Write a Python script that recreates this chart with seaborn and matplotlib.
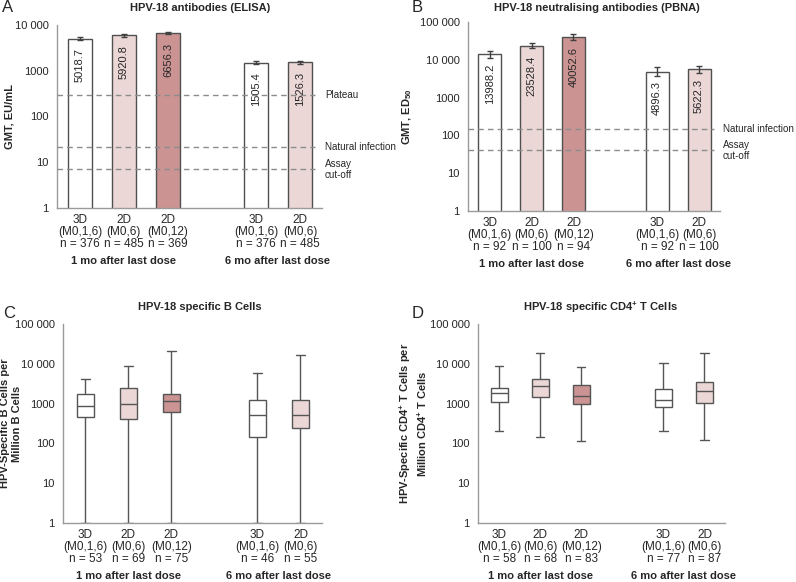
import matplotlib
matplotlib.use('Agg')
import matplotlib.pyplot as plt
import numpy as np
import pandas as pd
import seaborn as sns

# -----------------------------------------------------------------------------
#         Data
# -----------------------------------------------------------------------------
regimens = ['3D\n(M0,1,6)', '2D\n(M0,6)', '2D\n(M0,12)', '3D\n(M0,1,6)', '2D\n(M0,6)']
timepoints = ['1 mo after last dose'] * 3 + ['6 mo after last dose'] * 2

# Panel A: ELISA GMT with 95% CI
elisa_gmt = [5018.7, 5920.8, 6656.3, 1505.4, 1526.3]
elisa_lo = [4600, 5550, 6300, 1380, 1430]
elisa_hi = [5480, 6320, 7040, 1640, 1630]
elisa_n = [376, 485, 369, 376, 485]
elisa_ref_names = ['Plateau', 'Natural infection', 'Assay\ncut-off']
elisa_ref_vals = [300, 22, 7]

# Panel B: PBNA GMT with 95% CI
pbna_gmt = [13988.2, 23528.4, 40052.6, 4896.3, 5622.3]
pbna_lo = [11200, 20300, 34300, 3700, 4600]
pbna_hi = [17500, 27300, 46800, 6500, 6900]
pbna_n = [92, 100, 94, 92, 100]
pbna_ref_names = ['Natural infection', 'Assay\ncut-off']
pbna_ref_vals = [150, 40]

# Panel C: B cells, five-number summary
bcell_low = [1, 1, 1, 1, 1]
bcell_q1 = [450, 420, 630, 145, 245]
bcell_med = [860, 980, 1170, 530, 530]
bcell_q3 = [1780, 2500, 1750, 1200, 1200]
bcell_high = [4200, 8600, 21500, 5800, 16500]
bcell_n = [53, 69, 75, 46, 55]

# Panel D: CD4+ T cells, five-number summary
cd4_low = [203, 147, 114, 200, 119]
cd4_q1 = [1100, 1470, 1000, 830, 1040]
cd4_med = [1850, 2820, 1560, 1260, 2100]
cd4_q3 = [2470, 4200, 3000, 2330, 3500]
cd4_high = [8900, 19200, 8100, 10400, 19200]
cd4_n = [58, 68, 83, 77, 87]

ticks_1e4 = ['1', '10', '100', '1000', '10 000']
ticks_1e5 = ['1', '10', '100', '1000', '10 000', '100 000']

palette = {'3D\n(M0,1,6)': 'white', '2D\n(M0,6)': '#EFD4D1', '2D\n(M0,12)': '#D48B8A'}

# -----------------------------------------------------------------------------
#         Layout helpers
# -----------------------------------------------------------------------------
W, H = 796, 582
sns.set_style('white')
plt.rcParams['font.family'] = ['Liberation Sans', 'DejaVu Sans']
plt.rcParams['mathtext.default'] = 'regular'
TXT = '#262626'

# groups of 3 and 2 bars with one empty slot between them
pos = [0, 1, 2, 4, 5]


def px_axes(fig, left, top, right, bottom):
    return fig.add_axes([left / W, 1 - bottom / H, (right - left) / W, (bottom - top) / H])


def style_axis(ax, ns, ymax, ticklabels, ylabel, ylab_x):
    ax.set_yscale('log')
    ax.set_ylim(1, ymax)
    ax.set_xlim(-0.52, 5.5)
    yt = [10 ** k for k in range(len(ticklabels))]
    ax.yaxis.set_major_locator(matplotlib.ticker.FixedLocator(yt))
    ax.yaxis.set_major_formatter(matplotlib.ticker.FixedFormatter(ticklabels))
    ax.yaxis.set_minor_locator(matplotlib.ticker.NullLocator())
    ax.set_xticks(pos)
    ax.set_xticklabels([f'{r}\nn = {n}' for r, n in zip(regimens, ns)],
                       fontsize=8.5, color=TXT, linespacing=1.05)
    ax.tick_params(axis='x', length=0, pad=4)
    ax.tick_params(axis='y', length=3, width=1, color='#8c8c8c', labelsize=8,
                   labelcolor=TXT, pad=3)
    sns.despine(ax=ax)
    for s in ['left', 'bottom']:
        ax.spines[s].set_color('#9a9a9a')
        ax.spines[s].set_linewidth(1)
    ax.set_xlabel('')
    ax.set_ylabel(ylabel, fontsize=8, fontweight='bold', color=TXT)
    ax.yaxis.set_label_coords(ylab_x, 0.5)
    for g in ['1 mo after last dose', '6 mo after last dose']:
        cx = np.mean([p for p, t in zip(pos, timepoints) if t == g])
        ax.annotate(g, xy=(cx, 0), xycoords=('data', 'axes fraction'),
                    xytext=(0, -38.5), textcoords='offset points',
                    ha='center', va='center', fontsize=8, fontweight='bold', color=TXT)


def bar_panel(ax, gmt, lo, hi, ref_names, ref_vals):
    df = pd.DataFrame({'pos': pos, 'gmt': gmt, 'regimen': regimens})
    sns.barplot(data=df, x='pos', y='gmt', hue='regimen', palette=palette,
                native_scale=True, width=0.55, dodge=False, errorbar=None,
                edgecolor='#505050', linewidth=1, legend=False, ax=ax)
    gmt = np.array(gmt)
    ax.errorbar(pos, gmt, yerr=[gmt - np.array(lo), np.array(hi) - gmt],
                fmt='none', ecolor='#404040', elinewidth=1, capsize=2.5,
                capthick=1, zorder=4)
    for p, v in zip(pos, gmt):
        ax.annotate(f'{v:.1f}', xy=(p, v), xytext=(0, -7), textcoords='offset points',
                    rotation=90, ha='center', va='top', fontsize=8, color=TXT)
    for name, v in zip(ref_names, ref_vals):
        ax.axhline(v, xmin=0, xmax=0.975, color='#8c8c8c', ls=(0, (4, 3)), lw=1, zorder=3)
        ax.annotate(name, xy=(1, v), xycoords=('axes fraction', 'data'),
                    xytext=(2, 0), textcoords='offset points', ha='left',
                    va='center', fontsize=7.1, color=TXT, annotation_clip=False,
                    linespacing=1.1)


def box_panel(ax, low, q1, med, q3, high):
    rows = []
    for p, r, *vals in zip(pos, regimens, low, q1, med, q3, high):
        for v in vals:
            rows.append({'pos': p, 'regimen': r, 'value': v})
    df = pd.DataFrame(rows)
    sns.boxplot(data=df, x='pos', y='value', hue='regimen', palette=palette,
                native_scale=True, width=0.4, dodge=False, whis=(0, 100),
                linecolor='#555555', linewidth=1, legend=False,
                log_scale=(False, True), ax=ax)


fig = plt.figure(figsize=(W / 100, H / 100), dpi=100)

axA = px_axes(fig, 57, 25, 322, 208)
bar_panel(axA, elisa_gmt, elisa_lo, elisa_hi, elisa_ref_names, elisa_ref_vals)
style_axis(axA, elisa_n, 1e4, ticks_1e4, 'GMT, EU/mL', -0.16)

axB = px_axes(fig, 468, 22, 720, 211)
bar_panel(axB, pbna_gmt, pbna_lo, pbna_hi, pbna_ref_names, pbna_ref_vals)
style_axis(axB, pbna_n, 1e5, ticks_1e5, 'GMT, ED$_{50}$', -0.215)

axC = px_axes(fig, 63, 324, 322, 523)
box_panel(axC, bcell_low, bcell_q1, bcell_med, bcell_q3, bcell_high)
style_axis(axC, bcell_n, 1e5, ticks_1e5,
           'HPV-Specific B Cells per\nMillion B Cells', -0.16)

axD = px_axes(fig, 478, 324, 725, 523)
box_panel(axD, cd4_low, cd4_q1, cd4_med, cd4_q3, cd4_high)
style_axis(axD, cd4_n, 1e5, ticks_1e5,
           'HPV-Specific CD4$^{+}$ T Cells per\nMillion CD4$^{+}$ T Cells', -0.2)

# Titles and panel letters
titles = [('HPV-18 antibodies (ELISA)', 200, 8), ('HPV-18 neutralising antibodies (PBNA)', 597, 8),
          ('HPV-18 specific B Cells', 200, 307), ('HPV-18 specific CD4$^{+}$ T Cells', 600, 307)]
for t, x, y in titles:
    fig.text(x / W, 1 - y / H, t, ha='center', va='center', fontsize=8,
             fontweight='bold', color=TXT)
for l, x, y in [('A', 2, 8), ('B', 412, 8), ('C', 3, 314), ('D', 412, 314)]:
    fig.text(x / W, 1 - y / H, l, ha='left', va='center', fontsize=12, color=TXT)

fig.savefig('out.png', dpi=100)
